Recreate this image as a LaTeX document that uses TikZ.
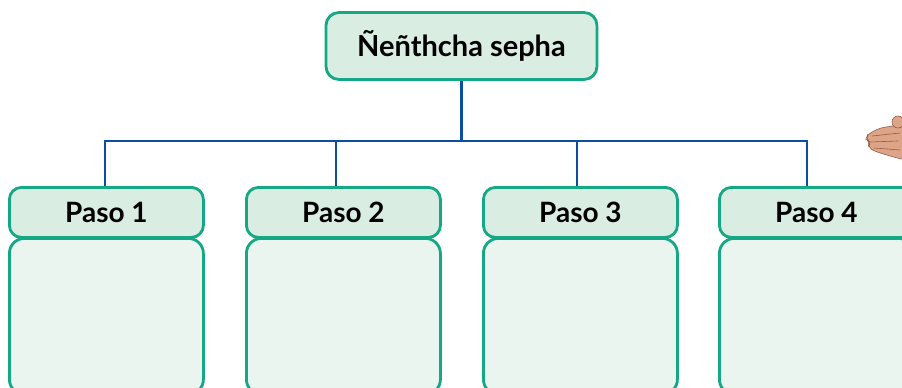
\documentclass[tikz,border=0pt]{standalone}
\usepackage{fontspec}
\setmainfont{Lato}
\usetikzlibrary{calc}

\definecolor{boxline}{HTML}{14A885}
\definecolor{headfill}{HTML}{DAEDE2}
\definecolor{bodyfill}{HTML}{EBF5F0}
\definecolor{busblue}{HTML}{0B4EA2}
\definecolor{skin}{HTML}{DDA488}
\definecolor{skinline}{HTML}{8E5E48}

\tikzset{
  headbox/.style={draw=boxline, fill=headfill, line width=2.8pt, rounded corners=12pt,
    minimum width=194pt, minimum height=50pt, inner sep=0pt, anchor=north west,
    font=\bfseries\fontsize{28}{30}\selectfont, text=black},
  bodybox/.style={draw=boxline, fill=bodyfill, line width=2.8pt, rounded corners=15pt,
    minimum width=194pt, minimum height=156pt, inner sep=0pt, anchor=north west},
  titlebox/.style={draw=boxline, fill=headfill, line width=2.8pt, rounded corners=13pt,
    minimum width=271pt, minimum height=67pt, inner sep=0pt,
    font=\bfseries\fontsize{29}{32}\selectfont, text=black},
  link/.style={draw=busblue, line width=2.4pt}
}

\begin{document}
\begin{tikzpicture}[x=1pt, y=-1pt]
  \useasboundingbox (0,0) rectangle (902,388);
  \clip (0,0) rectangle (902,388);

  % title
  \node[titlebox] (top) at (461.5,46) {Ñeñthcha sepha};

  % step columns: body first, header on top
  \foreach \i/\x in {1/8, 2/245, 3/482, 4/718} {
    \node[bodybox] (body\i) at (\x,237) {};
  }
  \node[headbox] (h1) at (8,186) {Paso 1};
  \node[headbox] (h2) at (245,186) {Paso 2};
  \node[headbox] (h3) at (482,186) {Paso 3};
  \node[headbox] (h4) at (718,186) {Paso 4};

  % branch points on the bus
  \coordinate (b1) at (105,141);
  \coordinate (b2) at (336,141);
  \coordinate (b3) at (577,141);
  \coordinate (b4) at (807,141);

  % connectors
  \draw[link] (top.south) |- (b1) -- (h1.north -| b1);
  \draw[link] (top.south) |- (b4) -- (h4.north -| b4);
  \draw[link] (b2) -- (h2.north -| b2);
  \draw[link] (b3) -- (h3.north -| b3);

  % pointing hand at the right edge
  \begin{scope}[fill=skin, draw=skinline, line width=0.6pt]
    \filldraw[rounded corners=4pt] (905,124) -- (880,128) -- (868,134) -- (866,139)
      -- (870,142) -- (868,147) -- (874,151) -- (890,156) -- (905,160) -- cycle;
    \draw (870,142) -- (898,141);
    \draw (872,136) -- (900,133);
    \draw (874,148) -- (900,150);
    \filldraw (898,122) circle (6pt);
  \end{scope}
\end{tikzpicture}
\end{document}
